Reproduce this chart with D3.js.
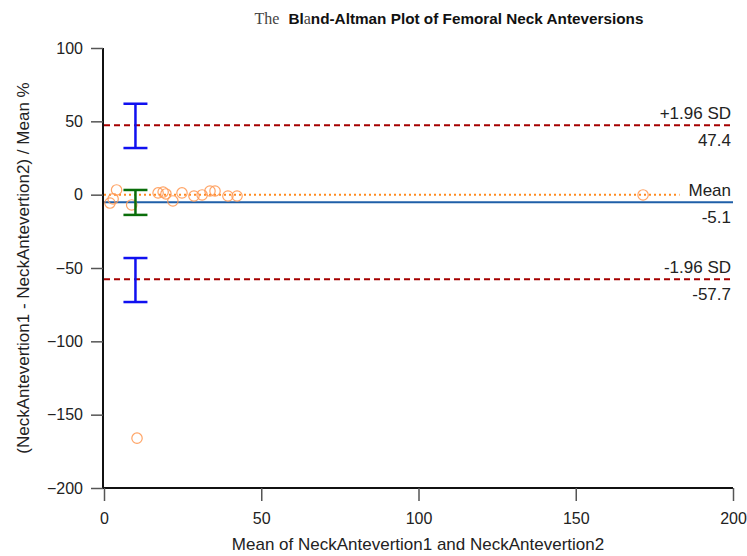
<!DOCTYPE html>
<html><head><meta charset="utf-8">
<script src="https://cdn.jsdelivr.net/npm/d3@7"></script>
<style>body{margin:0;background:#fff}svg{display:block}text{font-family:"Liberation Sans",Arial,sans-serif}</style>
</head><body>
<svg id="c" width="747" height="556"></svg>
<script>
const meanVals = [1.9, 2.9, 4.0, 8.8, 17.2, 18.8, 19.7, 21.9, 24.8, 28.6, 31.2, 33.7, 35.3, 39.4, 42.3, 171.4, 10.5];
const pctDiff  = [-5.7, -2.9, 3.2, -7.0, 1.2, 1.8, 0.5, -4.3, 1.2, -0.9, -0.2, 2.5, 2.5, -0.9, -0.9, -0.2, -166];
const limits = [{name:"+1.96 SD", value:47.4}, {name:"Mean", value:-5.1}, {name:"-1.96 SD", value:-57.7}];
const ciBars = [{x:10, lo:31.8, hi:62.0, kind:"upper"}, {x:10, lo:-13.8, hi:3.2, kind:"mean"}, {x:10, lo:-73.2, hi:-43.2, kind:"lower"}];
const xTicks = [0, 50, 100, 150, 200];
const yTicks = [100, 50, 0, -50, -100, -150, -200];
const equalityRange = [0, 183];

const svg = d3.select("#c");
const x = d3.scaleLinear().domain([0, 200]).range([104, 733]);
const y = d3.scaleLinear().domain([-200, 100]).range([488, 48]);

// axes
const xa = svg.append("g").attr("transform","translate(0,488)")
  .call(d3.axisBottom(x).tickValues(xTicks).tickSize(13).tickPadding(12).tickSizeOuter(0));
const ya = svg.append("g").attr("transform","translate(103,0)")
  .call(d3.axisLeft(y).tickValues(yTicks).tickSize(12).tickPadding(8).tickSizeOuter(0));
[xa, ya].forEach(a => {
  a.select(".domain").attr("stroke","#111").attr("stroke-width",2);
  a.selectAll(".tick line").attr("stroke","#555").attr("stroke-width",1.5);
  a.selectAll(".tick text").attr("font-size",16).attr("fill","#222").attr("font-family","Liberation Sans, Arial, sans-serif");
});
xa.select(".domain").attr("d", `M${x(0)-1},0H${x(200)}`);
ya.select(".domain").attr("d", `M0,${y(100)}V${y(-200)+1}`);

// limit lines
const colors = {"+1.96 SD":"#a50000", "Mean":"#1f5fa8", "-1.96 SD":"#a50000"};
limits.forEach(l => {
  svg.append("line").attr("x1", x(0)).attr("x2", x(200)).attr("y1", y(l.value)).attr("y2", y(l.value))
    .attr("stroke", colors[l.name]).attr("stroke-width", 2)
    .attr("stroke-dasharray", l.name === "Mean" ? null : "6,4");
  svg.append("text").attr("x", 731).attr("y", y(l.value) - 6).attr("text-anchor","end")
    .attr("font-size",17).attr("fill","#222").text(l.name);
  svg.append("text").attr("x", 731).attr("y", y(l.value) + 21).attr("text-anchor","end")
    .attr("font-size",17).attr("fill","#222").text(l.value.toFixed(1));
});

// equality line
svg.append("line").attr("x1", x(equalityRange[0])).attr("x2", x(equalityRange[1]))
  .attr("y1", y(0)).attr("y2", y(0)).attr("stroke","#ff8a1f").attr("stroke-width",2).attr("stroke-dasharray","2,3");

// points
svg.append("g").selectAll("circle").data(meanVals.map((m,i)=>[m,pctDiff[i]])).join("circle")
  .attr("cx", d => x(d[0])).attr("cy", d => y(d[1])).attr("r", 5.2)
  .attr("fill","none").attr("stroke","#ff9a55").attr("stroke-width",1.2).attr("stroke-opacity",0.9);

// CI bars
const ciColor = {upper:"#1010f0", mean:"#0a6e0a", lower:"#1010f0"};
ciBars.forEach(b => {
  const g = svg.append("g").attr("stroke", ciColor[b.kind]).attr("stroke-width", 2.5);
  g.append("line").attr("x1", x(b.x)).attr("x2", x(b.x)).attr("y1", y(b.lo)).attr("y2", y(b.hi));
  g.append("line").attr("x1", x(b.x)-12).attr("x2", x(b.x)+12).attr("y1", y(b.lo)).attr("y2", y(b.lo));
  g.append("line").attr("x1", x(b.x)-12).attr("x2", x(b.x)+12).attr("y1", y(b.hi)).attr("y2", y(b.hi));
});

// title
const t = svg.append("text").attr("x", 449).attr("y", 24).attr("text-anchor","middle").attr("font-size",15.3).attr("fill","#111");
t.append("tspan").attr("font-family","Liberation Serif, DejaVu Serif, serif").attr("fill","#444").attr("font-size",16).text("The");
t.append("tspan").attr("dx", 9).attr("font-weight","bold").text("Bl");
t.append("tspan").attr("font-family","Liberation Serif, DejaVu Serif, serif").attr("fill","#444").attr("font-size",16).text("a");
t.append("tspan").attr("font-weight","bold").text("nd-Altman Plot of Femoral Neck Anteversions");

// axis titles
svg.append("text").attr("x", 418).attr("y", 550).attr("text-anchor","middle").attr("font-size",17).attr("fill","#222")
  .text("Mean of NeckAntevertion1 and NeckAntevertion2");
svg.append("text").attr("transform","translate(29,268) rotate(-90)").attr("text-anchor","middle").attr("font-size",17).attr("fill","#222")
  .text("(NeckAntevertion1 - NeckAntevertion2) / Mean %");
</script>
</body></html>
